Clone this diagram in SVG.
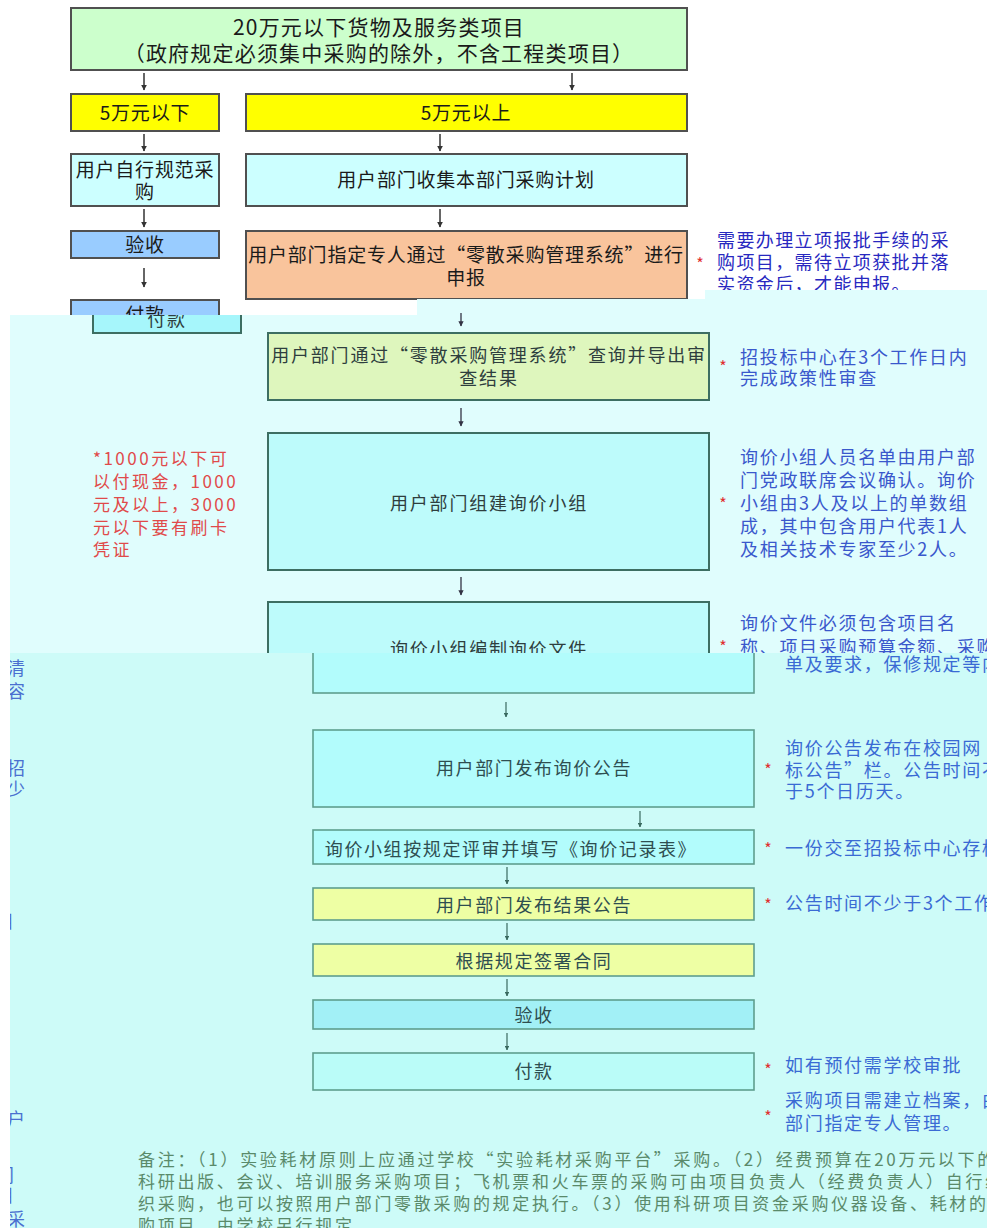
<svg xmlns="http://www.w3.org/2000/svg" width="987" height="1228" viewBox="0 0 987 1228">
<style>
text{font-family:"Noto Sans CJK SC","Noto Sans",sans-serif}
.s1{stroke:#505050;stroke-width:2}
.s2{stroke:#3d6e62;stroke-width:2}
.s3{stroke:#5e9e8e;stroke-width:1.6}
.t1{font-size:19px;fill:#1a1a1a;text-anchor:middle;letter-spacing:0.8px}
.t0{font-size:21px;fill:#1a1a1a;text-anchor:middle;letter-spacing:1.2px}
.t2{font-size:18px;fill:#2e3e3e;text-anchor:middle;letter-spacing:1.8px}
.t3{font-size:18px;fill:#2e4e50;text-anchor:middle;letter-spacing:1.6px}
.n1{font-size:18px;fill:#2828c0;letter-spacing:1.4px}
.n2{font-size:18px;fill:#3a58cc;letter-spacing:1.7px}
.n3{font-size:18px;fill:#3a6ad4;letter-spacing:1.7px}
.red{font-size:17px;fill:#e04a4a;letter-spacing:2.5px}
.ast{font-size:16px;fill:#e03030;text-anchor:middle}
.note{font-size:17px;fill:#5a8a6a;letter-spacing:2.7px}
.frag{font-size:18px;fill:#4a70d0}
.a1{stroke:#333;stroke-width:1.5;fill:none;marker-end:url(#h1)}
.a2{stroke:#334;stroke-width:1.3;fill:none;marker-end:url(#h2)}
.a3{stroke:#3a6a60;stroke-width:1.2;fill:none;marker-end:url(#h3)}
</style>
<defs>
<marker id="h1" viewBox="0 0 10 10" refX="9" refY="5" markerWidth="4" markerHeight="4" orient="auto"><path d="M0,0 L10,5 L0,10 z" fill="#333"/></marker>
<marker id="h2" viewBox="0 0 10 10" refX="9" refY="5" markerWidth="4" markerHeight="4" orient="auto"><path d="M0,0 L10,5 L0,10 z" fill="#334"/></marker>
<marker id="h3" viewBox="0 0 10 10" refX="9" refY="5" markerWidth="4" markerHeight="4" orient="auto"><path d="M0,0 L10,5 L0,10 z" fill="#3a6a60"/></marker>
<clipPath id="c2"><path d="M10,315 H417 V299 H705 V290 H987 V653 H10 Z"/></clipPath>
<clipPath id="c3"><rect x="10" y="653" width="977" height="575"/></clipPath>
</defs>
<rect x="0" y="0" width="987" height="1228" fill="#ffffff"/>

<!-- Section 1 -->
<g id="sec1">
<g id="n-top"><rect x="71" y="8" width="616" height="62" fill="#ccffcc" class="s1"/>
<text class="t0" x="379" y="35">20万元以下货物及服务类项目</text>
<text class="t0" x="379" y="61">（政府规定必须集中采购的除外，不含工程类项目）</text></g>
<g id="n-below5"><rect x="71" y="94" width="148" height="37" fill="#ffff00" class="s1"/><text class="t1" x="145" y="120">5万元以下</text></g>
<g id="n-above5"><rect x="246" y="94" width="441" height="37" fill="#ffff00" class="s1"/><text class="t1" x="466" y="120">5万元以上</text></g>
<g id="n-self"><rect x="71" y="154" width="148" height="52" fill="#ccffff" class="s1"/><text class="t1" x="145" y="177">用户自行规范采</text><text class="t1" x="145" y="199">购</text></g>
<g id="n-collect"><rect x="246" y="154" width="441" height="52" fill="#ccffff" class="s1"/><text class="t1" x="466" y="187">用户部门收集本部门采购计划</text></g>
<g id="n-accept1"><rect x="71" y="231" width="148" height="27" fill="#99ccff" class="s1"/><text class="t1" x="145" y="252">验收</text></g>
<g id="n-report"><rect x="246" y="231" width="441" height="68" fill="#f9c49c" class="s1"/>
<text class="t1" x="466" y="262">用户部门指定专人通过“零散采购管理系统”进行</text><text class="t1" x="466" y="285">申报</text></g>
<g id="n-pay1"><rect x="71" y="300" width="148" height="30" fill="#99ccff" class="s1"/><text class="t1" x="145" y="322">付款</text></g>
<g id="note-report"><text class="ast" x="700" y="270">*</text>
<text class="n1" x="717" y="247">需要办理立项报批手续的采</text>
<text class="n1" x="717" y="269">购项目，需待立项获批并落</text>
<text class="n1" x="717" y="291">实资金后，才能申报。</text></g>
<g id="conn1">
<line class="a1" x1="144" y1="73" x2="144" y2="90"/>
<line class="a1" x1="572" y1="73" x2="572" y2="90"/>
<line class="a1" x1="144" y1="134" x2="144" y2="151"/>
<line class="a1" x1="440" y1="134" x2="440" y2="151"/>
<line class="a1" x1="144" y1="209" x2="144" y2="227"/>
<line class="a1" x1="440" y1="209" x2="440" y2="227"/>
<line class="a1" x1="144" y1="268" x2="144" y2="287"/>
</g>
</g>

<!-- Section 2 -->
<path d="M10,315 H417 V299 H705 V290 H987 V653 H10 Z" fill="#e0fdfd"/>
<g id="sec2" clip-path="url(#c2)">
<g id="n-pay2"><rect x="93" y="300" width="148" height="33" fill="#a6f6fb" class="s2"/><text class="t2" x="167" y="326">付款</text></g>
<g id="n-query"><rect x="268" y="333" width="441" height="67" fill="#def6bd" class="s2"/>
<text class="t2" x="489" y="362">用户部门通过“零散采购管理系统”查询并导出审</text>
<text class="t2" x="489" y="385">查结果</text></g>
<g id="n-group"><rect x="268" y="433" width="441" height="137" fill="#bdfbfb" class="s2"/>
<text class="t2" x="489" y="510">用户部门组建询价小组</text></g>
<g id="n-doc"><rect x="268" y="602" width="441" height="90" fill="#bdfbfb" class="s2"/>
<text class="t2" x="489" y="656">询价小组编制询价文件</text></g>
<g id="note-cash"><text class="red" x="93" y="465">*1000元以下可</text>
<text class="red" x="93" y="488">以付现金，1000</text>
<text class="red" x="93" y="511">元及以上，3000</text>
<text class="red" x="93" y="534">元以下要有刷卡</text>
<text class="red" x="93" y="556">凭证</text></g>
<g id="note-query"><text class="ast" x="723" y="373">*</text>
<text class="n2" x="740" y="364">招投标中心在3个工作日内</text>
<text class="n2" x="740" y="385">完成政策性审查</text></g>
<g id="note-group"><text class="ast" x="723" y="510">*</text>
<text class="n2" x="740" y="464">询价小组人员名单由用户部</text>
<text class="n2" x="740" y="487">门党政联席会议确认。询价</text>
<text class="n2" x="740" y="510">小组由3人及以上的单数组</text>
<text class="n2" x="740" y="533">成，其中包含用户代表1人</text>
<text class="n2" x="740" y="556">及相关技术专家至少2人。</text></g>
<g id="note-doc"><text class="ast" x="723" y="653">*</text>
<text class="n2" x="740" y="630">询价文件必须包含项目名</text>
<text class="n2" x="740" y="654">称、项目采购预算金额、采购</text></g>
<g id="conn2">
<line class="a2" x1="461" y1="313" x2="461" y2="326"/>
<line class="a2" x1="461" y1="408" x2="461" y2="426"/>
<line class="a2" x1="461" y1="577" x2="461" y2="595"/>
</g>
</g>

<!-- Section 3 -->
<rect x="10" y="653" width="977" height="575" fill="#cdfbf8"/>
<g id="sec3" clip-path="url(#c3)">
<g id="n-doc3"><rect x="313" y="630" width="441" height="63" fill="#b2fcfc" class="s3"/></g>
<g id="n-notice"><rect x="313" y="730" width="441" height="77" fill="#b2fcfc" class="s3"/><text class="t3" x="534" y="775">用户部门发布询价公告</text></g>
<g id="n-review"><rect x="313" y="830" width="441" height="34" fill="#b2fcfc" class="s3"/><text class="t3" x="511" y="856">询价小组按规定评审并填写《询价记录表》</text></g>
<g id="n-result"><rect x="313" y="888" width="441" height="32" fill="#eeffa4" class="s3"/><text class="t3" x="534" y="912">用户部门发布结果公告</text></g>
<g id="n-contract"><rect x="313" y="944" width="441" height="32" fill="#eeffa4" class="s3"/><text class="t3" x="534" y="968">根据规定签署合同</text></g>
<g id="n-accept2"><rect x="313" y="1000" width="441" height="29" fill="#a2f0f6" class="s3"/><text class="t3" x="534" y="1022">验收</text></g>
<g id="n-pay3"><rect x="313" y="1053" width="441" height="37" fill="#bafcf8" class="s3"/><text class="t3" x="534" y="1078">付款</text></g>
<g id="note-doc3"><text class="n3" x="785" y="671">单及要求，保修规定等内容</text></g>
<g id="note-notice"><text class="ast" x="768" y="776">*</text>
<text class="n3" x="785" y="755">询价公告发布在校园网“招</text>
<text class="n3" x="785" y="777">标公告”栏。公告时间不少</text>
<text class="n3" x="785" y="798">于5个日历天。</text></g>
<g id="note-review"><text class="ast" x="768" y="855">*</text><text class="n3" x="785" y="855">一份交至招投标中心存档</text></g>
<g id="note-result"><text class="ast" x="768" y="911">*</text><text class="n3" x="785" y="910">公告时间不少于3个工作日</text></g>
<g id="note-pay"><text class="ast" x="768" y="1076">*</text><text class="n3" x="785" y="1072">如有预付需学校审批</text></g>
<g id="note-archive"><text class="ast" x="768" y="1123">*</text>
<text class="n3" x="785" y="1107">采购项目需建立档案，由用户</text>
<text class="n3" x="785" y="1130">部门指定专人管理。</text></g>
<g id="frags">
<text class="frag" x="7" y="675">清</text>
<text class="frag" x="7" y="698">容</text>
<text class="frag" x="7" y="775">招</text>
<text class="frag" x="7" y="796">少</text>
<text class="frag" x="-4" y="928">目</text>
<text class="frag" x="7" y="1126">户</text>
<text class="frag" x="-4" y="1182">门</text>
<text class="frag" x="-4" y="1202">目</text>
<text class="frag" x="7" y="1226">采</text>
</g>
<g id="remark">
<text class="note" x="138" y="1166">备注：（1）实验耗材原则上应通过学校“实验耗材采购平台”采购。（2）经费预算在20万元以下的</text>
<text class="note" x="138" y="1188">科研出版、会议、培训服务采购项目；飞机票和火车票的采购可由项目负责人（经费负责人）自行组</text>
<text class="note" x="138" y="1210">织采购，也可以按照用户部门零散采购的规定执行。（3）使用科研项目资金采购仪器设备、耗材的采</text>
<text class="note" x="138" y="1232">购项目，由学校另行规定。</text>
</g>
<g id="conn3">
<line class="a3" x1="506" y1="702" x2="506" y2="717"/>
<line class="a3" x1="640" y1="811" x2="640" y2="827"/>
<line class="a3" x1="507" y1="867" x2="507" y2="884"/>
<line class="a3" x1="507" y1="923" x2="507" y2="940"/>
<line class="a3" x1="507" y1="979" x2="507" y2="996"/>
<line class="a3" x1="507" y1="1033" x2="507" y2="1050"/>
</g>
</g>
</svg>
